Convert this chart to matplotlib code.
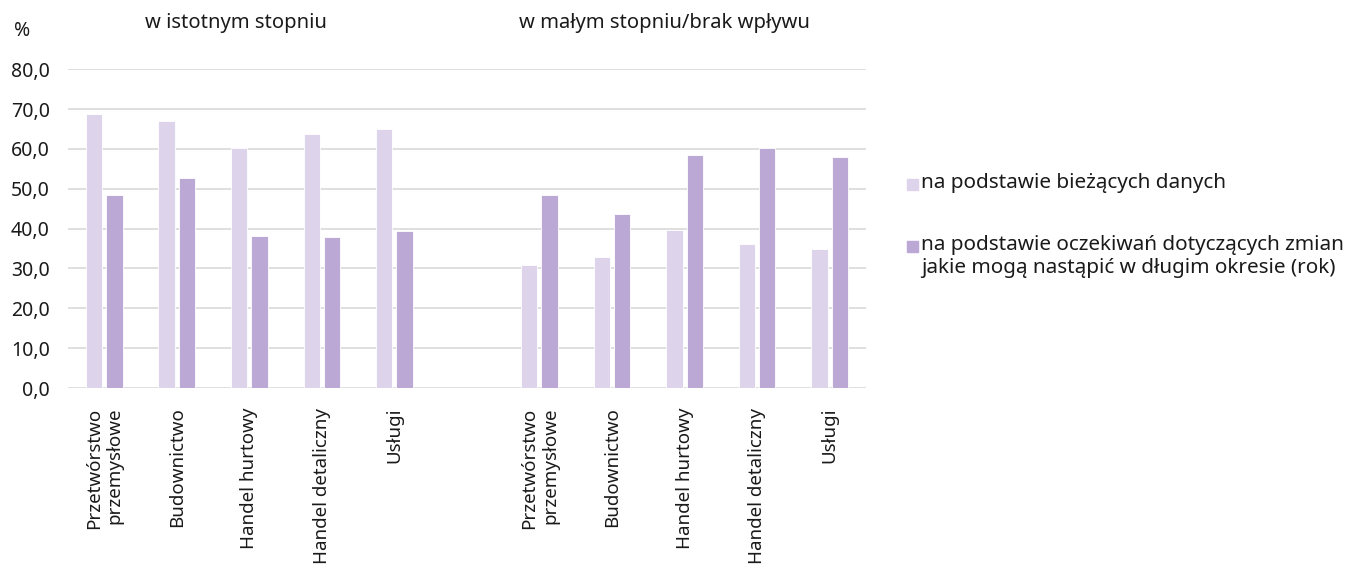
import numpy as np
import matplotlib.pyplot as plt
from matplotlib.patches import Rectangle

plt.rcParams['font.family'] = ['Noto Sans', 'DejaVu Sans']

# Data
categories = ["Przetwórstwo\nprzemysłowe", "Budownictwo", "Handel hurtowy", "Handel detaliczny", "Usługi",
              "",
              "Przetwórstwo\nprzemysłowe", "Budownictwo", "Handel hurtowy", "Handel detaliczny", "Usługi"]
current_data = [68.7, 66.9, 60.3, 63.7, 64.9, np.nan, 30.8, 32.8, 39.6, 36.2, 34.8]
expected_data = [48.5, 52.6, 38.1, 37.8, 39.5, np.nan, 48.5, 43.7, 58.5, 60.3, 58.0]
series_labels = ["na podstawie bieżących danych",
                 "na podstawie oczekiwań dotyczących zmian\njakie mogą nastąpić w długim okresie (rok)"]
group_labels = ["w istotnym stopniu", "w małym stopniu/brak wpływu"]
colors = ["#DDD3EA", "#BBA8D5"]

fig = plt.figure(figsize=(13.48, 5.81), dpi=100)
ax = fig.add_axes([0.0504, 0.332, 0.592, 0.549])

x = np.arange(len(categories))
w = 0.225
ax.bar(x - 0.14, current_data, w, color=colors[0], edgecolor="white", linewidth=0.6, zorder=3)
ax.bar(x + 0.14, expected_data, w, color=colors[1], edgecolor="white", linewidth=0.6, zorder=3)

ax.set_xlim(-0.5, len(categories) - 0.5)
ax.set_ylim(0, 80)
ax.set_yticks(np.arange(0, 81, 10))
ax.set_yticklabels([f"{v:.1f}".replace(".", ",") for v in np.arange(0, 81, 10)], fontsize=14, color="#1a1a1a")
ax.yaxis.grid(True, color="#D9D9D9", linewidth=1.2, zorder=0)
ax.set_axisbelow(True)
for s in ax.spines.values():
    s.set_visible(False)
ax.tick_params(axis="both", length=0)
ax.tick_params(axis="y", pad=13)

ax.set_xticks(x)
ax.set_xticklabels(categories, rotation=90, fontsize=13.5, va="top", ha="center",
                   multialignment="right", color="#1a1a1a")
ax.tick_params(axis="x", pad=14)

# Group headers and unit
fig.text(22 / 1348, 1 - 31 / 581, "%", fontsize=14, ha="center", va="center", color="#1a1a1a")
fig.text(236 / 1348, 1 - 23 / 581, group_labels[0], fontsize=14.5, ha="center", va="center", color="#1a1a1a")
fig.text(664 / 1348, 1 - 23 / 581, group_labels[1], fontsize=14.5, ha="center", va="center", color="#1a1a1a")

# Legend drawn manually
legend_y = [186, 248]
for lbl, col, ly in zip(series_labels, colors, legend_y):
    fig.patches.append(Rectangle((907 / 1348, 1 - (ly + 4) / 581), 11 / 1348, 11 / 581,
                                 transform=fig.transFigure, color=col, figure=fig))
    fig.text(921 / 1348, 1 - (ly - 13) / 581, lbl, fontsize=14.9, ha="left", va="top",
             color="#1a1a1a", linespacing=1.18)

fig.savefig("out.png", dpi=100)
